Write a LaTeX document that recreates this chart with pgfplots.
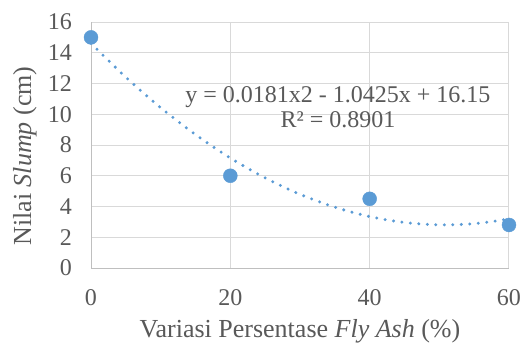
\documentclass[border=0pt]{standalone}
\usepackage{fontspec}
\setmainfont{Liberation Serif}
\usepackage{pgfplots}
\pgfplotsset{compat=1.18}
\definecolor{txt}{HTML}{595959}
\definecolor{grd}{HTML}{D9D9D9}
\definecolor{axl}{HTML}{BFBFBF}
\definecolor{blu}{HTML}{5B9BD5}
\begin{document}
\begin{tikzpicture}
\useasboundingbox (0,0) rectangle (527pt,346pt);
\begin{axis}[
  at={(91pt,78pt)}, anchor=south west,
  scale only axis, width=418pt, height=246pt,
  xmin=0, xmax=60, ymin=0, ymax=16,
  xtick={0,20,40,60}, ytick={0,2,...,16},
  grid=major, major grid style={grd, line width=1pt},
  axis lines*=left, axis line style={axl, line width=1pt, -},
  major tick length=0pt,
  clip=false,
  tick label style={font=\fontsize{24}{26}\selectfont, text=txt, inner sep=0pt},
  yticklabel style={anchor=east, xshift=-19pt},
  xticklabel style={anchor=north, yshift=-21pt},
  /pgf/number format/assume math mode=true,
  label style={font=\fontsize{26}{28}\selectfont, text=txt},
  xlabel={Variasi Persentase \textit{Fly Ash} (\%)},
  ylabel={Nilai \textit{Slump} (cm)},
  xlabel style={at={(axis description cs:0.5,-0.258)}, anchor=center},
  ylabel style={at={(axis description cs:-0.158,0.455)}, anchor=center, rotate=0},
]
\addplot[blu, line width=3.3pt, line cap=round, dash pattern=on 0pt off 8.5pt, smooth]
  coordinates {(0,14.615)(5,12.408)(10,10.429)(15,8.678)(20,7.155)(25,5.861)(30,4.794)(35,3.955)(40,3.345)(45,2.963)(50,2.809)(55,2.882)(60,3.185)};
\addplot[only marks, mark=*, mark size=7pt, mark options={draw=blu, fill=blu}]
  coordinates {(0,15)(20,6)(40,4.5)(60,2.8)};
\node[font=\fontsize{24}{25}\selectfont, text=txt, align=center] at (axis cs:35.45,10.44)
  {y = 0.0181x2 - 1.0425x + 16.15\\R² = 0.8901};
\end{axis}
\end{tikzpicture}
\end{document}
